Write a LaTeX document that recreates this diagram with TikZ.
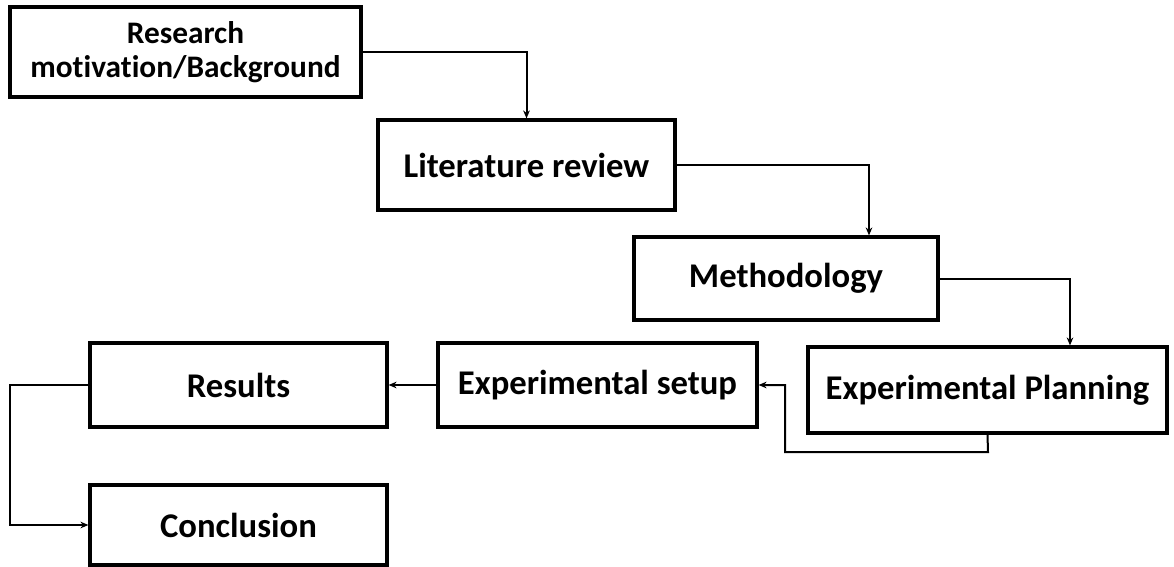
\documentclass[tikz,border=0pt]{standalone}
\usepackage{fontspec}
\setmainfont{Carlito}[Ligatures=NoCommon]
\usetikzlibrary{arrows.meta,calc}

\begin{document}
\begin{tikzpicture}[x=0.75pt,y=-0.75pt,
  box/.style={draw=black,line width=2.4pt,fill=white,inner sep=0pt,
    align=center,font=\fontsize{26}{30}\selectfont\bfseries},
  link/.style={draw=black,line width=1.5pt,
    -{Stealth[length=6pt,width=5pt]}},
]
\useasboundingbox (0,0) rectangle (1174,567);

% process boxes
\node[box,minimum width={351*0.75pt},minimum height={90*0.75pt},
  font=\fontsize{23.5}{25}\selectfont\bfseries]
  (research) at (185.5,52) {Research\\motivation/Background};
\node[box,minimum width={297*0.75pt},minimum height={90*0.75pt}]
  (lit) at (526.5,165) {Literature review};
\node[box,minimum width={304*0.75pt},minimum height={83*0.75pt}]
  (method) at (786,278.5) {\raisebox{-3pt}{Methodology}};
\node[box,minimum width={359*0.75pt},minimum height={86*0.75pt}]
  (plan) at (987.5,390) {Experimental Planning};
\node[box,minimum width={319*0.75pt},minimum height={84*0.75pt}]
  (setup) at (597.5,385) {Experimental setup};
\node[box,minimum width={297*0.75pt},minimum height={84*0.75pt}]
  (results) at (238.5,385) {Results};
\node[box,minimum width={297*0.75pt},minimum height={80*0.75pt}]
  (concl) at (238.5,525) {Conclusion};

% bend points of the connectors
\coordinate (litin) at (869,0);
\coordinate (planin) at (1070,0);
\coordinate (loopa) at (988,452);
\coordinate (loopb) at (785,452);
\coordinate (leftx) at (10,0);

% connectors
\draw[link] (research.east) -| (lit.north);
\draw[link] (lit.east) -| (litin |- method.north);
\draw[link] (method.east) -| (planin |- plan.north);
\draw[link] (plan.south) -- (loopa) -- (loopb) |- (setup.east);
\draw[link] (setup.west) -- (results.east);
\draw[link] (results.west) -| (leftx |- concl.west) -- (concl.west);
\end{tikzpicture}
\end{document}
